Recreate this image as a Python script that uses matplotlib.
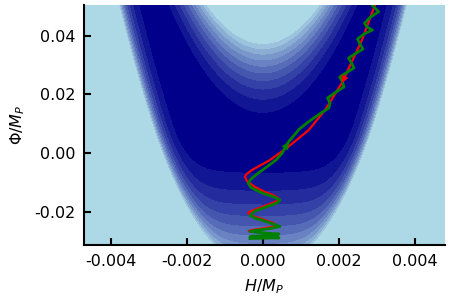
import numpy as np
import matplotlib
matplotlib.use("Agg")
import matplotlib.pyplot as plt
from matplotlib.colors import ListedColormap, to_rgb

plt.rcParams['axes.unicode_minus'] = False
plt.rcParams['font.family'] = ['DejaVu Sans']

# ---- axis settings ----
xlim = (-0.004733, 0.0048)
ylim = (-0.0313, 0.05036)
xticks = [-0.004, -0.002, 0.000, 0.002, 0.004]
xticklabels = ["-0.004", "-0.002", "0.000", "0.002", "0.004"]
yticks = [-0.02, 0.00, 0.02, 0.04]
yticklabels = ["-0.02", "0.00", "0.02", "0.04"]

# ---- potential-landscape parameters ----
cap_A, cap_p0, cap_a = 855.0, 0.0031, 6000.0          # inner cap above the valley
bowl_C, bowl_phi, bowl_b = 463.0, 0.0079, 300.0       # floor below the valley
wall_phi0, wall_k, wall_d = -0.0488, 6850.0, 0.00023  # outer wall
n_bands = 10

# ---- trajectories ----
red_H = [0.003006, 0.002953, 0.002610, 0.002075, 0.001635, 0.001205, 0.000667,
         0.000185, -0.000290, -0.000448, -0.000475, -0.000422, -0.000211, 0.000053,
         0.000290, 0.000403, 0.000343, 0.000079, -0.000211, -0.000369, -0.000388,
         -0.000316, -0.000026, 0.000237, 0.000361, 0.000264, -0.000026, -0.000290,
         -0.000369]
red_P = [0.05206, 0.05036, 0.03847, 0.02377, 0.01467, 0.00788, 0.00224,
         -0.00228, -0.00567, -0.00720, -0.00795, -0.00941, -0.01144, -0.01314,
         -0.01433, -0.01528, -0.01637, -0.01773, -0.01909, -0.01993, -0.02038,
         -0.02112, -0.02231, -0.02350, -0.02435, -0.02496, -0.02554, -0.02605,
         -0.02639]
green_H = [0.002848, 0.002874, 0.003051, 0.002821, 0.002676, 0.002742, 0.002887,
           0.002663, 0.002492, 0.002558, 0.002637, 0.002439, 0.002257, 0.002334,
           0.002399, 0.002202, 0.002022, 0.002096, 0.002136, 0.001925, 0.001701,
           0.001767, 0.001740, 0.001529, 0.001266, 0.000989, 0.000941, 0.000678,
           0.000501, 0.000343, 0.000105, -0.000158, -0.000330, -0.000388, -0.000316,
           -0.000026, 0.000290, 0.000448, 0.000369, 0.000079, -0.000211, -0.000343,
           -0.000211, 0.000079, 0.000343, 0.000448, 0.000185, -0.000211, -0.000343,
           0.000053, 0.000422, 0.000053, -0.000343, 0.000053, 0.000422, -0.000343]
green_P = [0.05206, 0.05036, 0.04809, 0.04612, 0.04415, 0.04289, 0.04187,
           0.04051, 0.03882, 0.03712, 0.03542, 0.03389, 0.03236, 0.03067,
           0.02897, 0.02744, 0.02591, 0.02421, 0.02252, 0.02082, 0.01878,
           0.01708, 0.01538, 0.01369, 0.01131, 0.00859, 0.00798, 0.00394,
           0.00000, -0.00228, -0.00455, -0.00703, -0.00890, -0.01019, -0.01161,
           -0.01348, -0.01484, -0.01586, -0.01688, -0.01824, -0.01960, -0.02112,
           -0.02197, -0.02316, -0.02435, -0.02486, -0.02554, -0.02622, -0.02656,
           -0.02707, -0.02741, -0.02792, -0.02825, -0.02849, -0.02870, -0.02893]
red_arrow_idx = 3      # arrow head on the red path (pointing along the path)
green_arrow_idx = 27   # arrow head on the green path (pointing back up the path)

H = np.linspace(xlim[0], xlim[1], 600)
P = np.linspace(ylim[0], ylim[1], 600)
HH, PP = np.meshgrid(H, P)
cap = cap_A * np.clip(PP - (cap_p0 + cap_a * HH**2), 0, None)**2
bowl = bowl_C * np.clip(bowl_phi + bowl_b * HH**2 - PP, 0, None)**2
Hl = np.sqrt(np.clip(PP - wall_phi0, 0, None) / wall_k)
wall = np.exp((np.abs(HH) - Hl) / wall_d)
F = cap + bowl + wall

dark = np.array(to_rgb("#00008B"))
light = np.array(to_rgb("#ADD8E6"))
cols = [tuple(dark + (light - dark) * k / n_bands) for k in range(n_bands)]
cmap = ListedColormap(cols)
cmap.set_over(tuple(light))
levels = np.linspace(0, 1, n_bands + 1)

fig = plt.figure(figsize=(4.5, 3), dpi=100)
ax = fig.add_axes([0.1856, 0.1817, 0.8033, 0.8016])
ax.contourf(HH, PP, F, levels=levels, cmap=cmap, extend='max')
ax.plot(red_H, red_P, color='red', lw=1.6, zorder=3, solid_joinstyle='round')
ax.plot(green_H, green_P, color='green', lw=2.0, zorder=4, solid_joinstyle='round')

i = red_arrow_idx
ax.annotate("", xy=(red_H[i], red_P[i]), xytext=(red_H[i - 1], red_P[i - 1]),
            arrowprops=dict(arrowstyle="-|>", color="red", lw=0, mutation_scale=14,
                            shrinkA=0, shrinkB=0), zorder=5)
j = green_arrow_idx
ax.annotate("", xy=(green_H[j], green_P[j]), xytext=(green_H[j + 1], green_P[j + 1]),
            arrowprops=dict(arrowstyle="-|>", color="green", lw=0, mutation_scale=14,
                            shrinkA=0, shrinkB=0), zorder=5)

ax.set_xlim(*xlim)
ax.set_ylim(*ylim)
ax.set_xticks(xticks)
ax.set_xticklabels(xticklabels)
ax.set_yticks(yticks)
ax.set_yticklabels(yticklabels)
for s in ['top', 'right']:
    ax.spines[s].set_visible(False)
for s in ['left', 'bottom']:
    ax.spines[s].set_linewidth(1.5)
ax.tick_params(direction='in', length=5, width=1.5, labelsize=11.5, pad=6)
ax.set_xlabel(r"$H/M_P$", fontsize=11.5, labelpad=6)
ax.set_ylabel(r"$\Phi/M_P$", fontsize=11.5, labelpad=5)
fig.savefig("out.png", dpi=100)
